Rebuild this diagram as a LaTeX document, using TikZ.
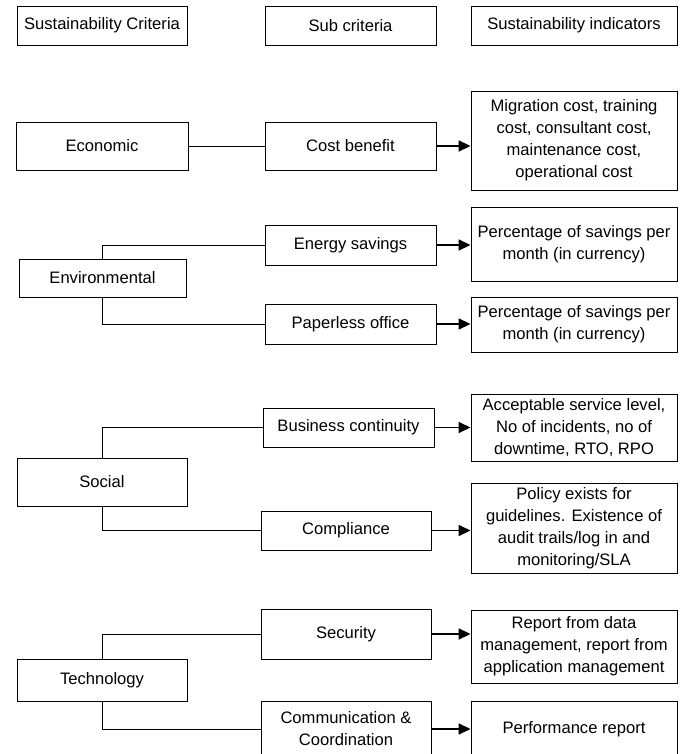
\documentclass[tikz,border=0pt]{standalone}
\usepackage{fontspec}
\setmainfont{Liberation Sans}
\usetikzlibrary{arrows.meta}
\begin{document}
\begin{tikzpicture}[x=1pt,y=-1pt,
  box/.style={draw,line width=0.9pt,align=center,inner sep=1pt,font=\fontsize{16.6}{22}\selectfont},
  link/.style={line width=0.9pt},
  arr/.style={line width=1.6pt,-{Triangle[length=12pt,width=11pt]}}]
\useasboundingbox (0,0) rectangle (682,754);
% headers
\node[box,minimum width=170pt,minimum height=39pt] (h1) at (102,25.5) {Sustainability Criteria};
\node[box,minimum width=171pt,minimum height=39pt] (h2) at (350.5,25.5) {Sub criteria};
\node[box,minimum width=206pt,minimum height=39pt] (h3) at (574,25.5) {Sustainability indicators};
% economic
\node[box,minimum width=172pt,minimum height=48pt] (eco) at (102,146) {Economic};
\node[box,minimum width=171pt,minimum height=48pt] (cost) at (350.5,146) {Cost benefit};
\node[box,minimum width=206pt,minimum height=99pt] (ieco) at (574,140.5) {Migration cost, training\\cost, consultant cost,\\maintenance cost,\\operational cost};
\draw[link] (eco) -- (cost);
\draw[arr] (cost.east) -- (cost.east -| ieco.west);
% environmental
\node[box,minimum width=167pt,minimum height=38pt] (env) at (102.5,278) {Environmental};
\node[box,minimum width=171pt,minimum height=40pt] (energy) at (350.5,245) {Energy savings};
\node[box,minimum width=206pt,minimum height=74pt] (ienergy) at (574,244) {Percentage of savings per\\month (in currency)};
\node[box,minimum width=171pt,minimum height=40pt] (paper) at (350.5,324) {Paperless office};
\node[box,minimum width=206pt,minimum height=55pt] (ipaper) at (574,324.5) {Percentage of savings per\\month (in currency)};
\draw[link] (env.north) -- (env.north |- energy.west) -- (energy.west);
\draw[link] (env.south) -- (env.south |- paper.west) -- (paper.west);
\draw[arr] (energy.east) -- (energy.east -| ienergy.west);
\draw[arr] (paper.east) -- (paper.east -| ipaper.west);
% social
\node[box,minimum width=170pt,minimum height=48pt] (soc) at (102,482) {Social};
\node[box,minimum width=171pt,minimum height=39pt] (bc) at (348.5,427.5) {Business continuity};
\node[box,minimum width=206pt,minimum height=67pt] (ibc) at (574,427.5) {Acceptable service level,\\No of incidents, no of\\downtime, RTO, RPO};
\node[box,minimum width=170pt,minimum height=39pt] (comp) at (346,530.5) {Compliance};
\node[box,minimum width=206pt,minimum height=90pt] (icomp) at (574,528) {Policy exists for\\guidelines. Existence of\\audit trails/log in and\\monitoring/SLA};
\draw[link] (soc.north) -- (soc.north |- bc.west) -- (bc.west);
\draw[link] (soc.south) -- (soc.south |- comp.west) -- (comp.west);
\draw[arr] (bc.east) -- (bc.east -| ibc.west);
\draw[arr] (comp.east) -- (comp.east -| icomp.west);
% technology
\node[box,minimum width=170pt,minimum height=42pt] (tech) at (102,680) {Technology};
\node[box,minimum width=170pt,minimum height=50pt] (sec) at (346,634) {Security};
\node[box,minimum width=206pt,minimum height=73pt] (isec) at (574,646.5) {Report from data\\management, report from\\application management};
\node[box,minimum width=170pt,minimum height=56pt] (comm) at (346,729) {Communication \&\\Coordination};
\node[box,minimum width=206pt,minimum height=56pt] (perf) at (574,729) {Performance report};
\draw[link] (tech.north) -- (tech.north |- sec.west) -- (sec.west);
\draw[link] (tech.south) -- (tech.south |- comm.west) -- (comm.west);
\draw[arr] (sec.east) -- (sec.east -| isec.west);
\draw[arr] (comm.east) -- (comm.east -| perf.west);
\end{tikzpicture}
\end{document}
